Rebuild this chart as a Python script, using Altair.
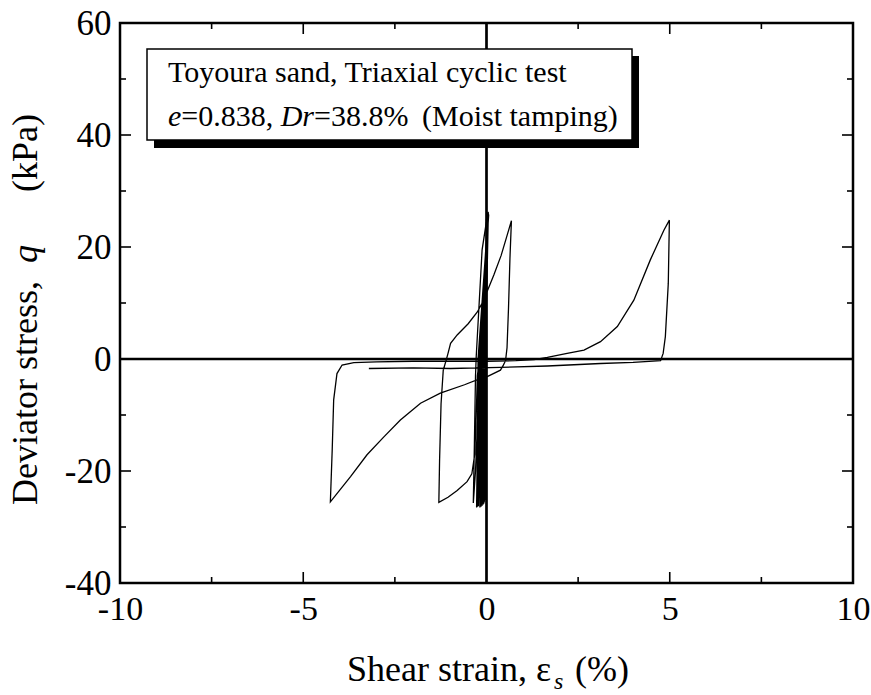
import altair as alt
import pandas as pd

# ---------------- data ----------------
# many small cycles around zero strain (thick central band)
band_strain = [0.00, 0.00, -0.01, -0.03, -0.03, 0.01, -0.02, -0.05, -0.04, 0.02,
               -0.03, -0.07, -0.06, 0.02, -0.05, -0.09, -0.08, 0.03, -0.06, -0.12,
               -0.10, 0.03, -0.08, -0.15, -0.13, 0.04, -0.10, -0.18, -0.15, 0.04,
               -0.12, -0.22, -0.18, 0.05, -0.15, -0.25, -0.20, 0.05, -0.17, -0.27,
               -0.22, 0.05, -0.19, -0.24, -0.21, 0.06, -0.20, -0.26, -0.23, 0.05]
band_q = [0.0, 25.0, 0.0, -25.2, 0.0, 25.4, 0.0, -25.5, 0.0, 25.6,
          0.0, -25.8, 0.0, 25.8, 0.0, -26.0, 0.0, 26.0, 0.0, -26.2,
          0.0, 26.1, 0.0, -26.4, 0.0, 26.3, 0.0, -26.5, 0.0, 26.2,
          0.0, -26.3, 0.0, 26.0, 0.0, -26.4, 0.0, 26.2, 0.0, -26.5,
          0.0, 26.0, 0.0, -26.2, 0.0, 25.8, 0.0, -26.4, 0.0, 26.0]

# growing loops after liquefaction
loop_strain = [0.00, -0.08, -0.15, -0.20, -0.25, -0.30, -0.36,
               -0.33, -0.30, -0.28, -0.20, -0.12, 0.03,
               -0.02, -0.08, -0.20, -0.25, -0.28, -0.32, -0.40, -0.53, -0.80, -1.05, -1.30,
               -1.28, -1.24, -1.18, -1.10, -1.05, -0.98, -0.80, -0.50, -0.25, -0.10, 0.05, 0.20, 0.40, 0.55, 0.68,
               0.64, 0.60, 0.56, 0.52, 0.46,
               0.38, 0.02, -0.16, -0.60, -1.26, -1.80, -2.35, -2.80, -3.26, -3.71, -4.26,
               -4.21, -4.17, -4.08, -3.94, -3.62, -3.00, -2.00, -1.00, 0.00, 0.80, 1.30,
               1.66, 2.20, 2.66, 3.11, 3.57, 4.02, 4.47, 4.84, 4.99,
               4.96, 4.88, 4.82, 4.75, 4.00, 3.11, 1.66, 0.38, -0.98, -2.00, -3.21]
loop_q = [10.0, 0.0, -0.6, -5.0, -12.0, -20.0, -25.7,
          -15.0, -3.0, 0.5, 10.0, 19.5, 25.9,
          8.0, 0.0, -0.7, -3.0, -10.0, -17.0, -20.5, -21.9, -23.5, -24.7, -25.6,
          -18.0, -8.0, -2.0, -0.2, 1.0, 2.8, 4.3, 6.3, 8.4, 10.2, 12.6, 15.0, 18.5, 21.8, 24.7,
          18.0, 9.0, 2.0, -0.3, -1.1,
          -2.0, -3.15, -3.45, -4.6, -6.1, -7.9, -10.9, -13.9, -17.1, -21.0, -25.5,
          -16.25, -7.3, -2.6, -1.07, -0.65, -0.5, -0.4, -0.4, -0.4, -0.3, -0.1,
          0.3, 1.0, 1.6, 3.1, 5.8, 10.5, 17.7, 23.0, 24.8,
          13.5, 4.0, 1.0, -0.3, -0.6, -0.8, -1.25, -1.5, -1.7, -1.6, -1.7]

x_labels = [-10, -5, 0, 5, 10]
y_labels = [-40, -20, 0, 20, 40, 60]
x_major = [-5, 5]
x_minor = [-7.5, -2.5, 2.5, 7.5]
y_major = [-20, 20, 40]
y_minor = [-30, -10, 10, 30, 50]
zero_line = [0]

# ---------------- chart ----------------
W, H = 733, 560
FONT = "Liberation Serif"

strain = band_strain + loop_strain
q = band_q + loop_q
df = pd.DataFrame({"strain": strain, "q": q, "i": list(range(len(strain)))})

xs = alt.Scale(domain=[-10, 10], nice=False, zero=False)
ys = alt.Scale(domain=[-40, 60], nice=False, zero=False)

xaxis = alt.Axis(values=x_labels, title=None, grid=False, ticks=False, domain=False,
                 labelFont=FONT, labelFontSize=34, labelColor="black", labelPadding=9,
                 labelFlush=False, labelOverlap=False, labelExpr="'' + datum.value")
yaxis = alt.Axis(values=y_labels, title=None, grid=False, ticks=False, domain=False,
                 labelFont=FONT, labelFontSize=35, labelColor="black", labelPadding=9,
                 labelFlush=False, labelOverlap=False, labelExpr="'' + datum.value")


def X(f):
    return alt.X(f, scale=xs, axis=xaxis)


def Y(f):
    return alt.Y(f, scale=ys, axis=yaxis)


curve = alt.Chart(df).mark_line(color="black", strokeWidth=1.3).encode(
    x=X("strain:Q"), y=Y("q:Q"), order="i:Q")

zdf = pd.DataFrame({"v": zero_line})
vzero = alt.Chart(zdf).mark_rule(color="black", strokeWidth=2.7).encode(x=X("v:Q"))
hzero = alt.Chart(zdf).mark_rule(color="black", strokeWidth=2.4).encode(y=Y("v:Q"))


def xticks(vals, length):
    d = pd.DataFrame({"v": vals})
    b = alt.Chart(d).mark_rule(color="black", strokeWidth=1.6).encode(
        x=X("v:Q"), y=alt.value(H), y2=alt.value(H - length))
    t = alt.Chart(d).mark_rule(color="black", strokeWidth=1.6).encode(
        x=X("v:Q"), y=alt.value(0), y2=alt.value(length))
    return [b, t]


def yticks(vals, length):
    d = pd.DataFrame({"v": vals})
    l = alt.Chart(d).mark_rule(color="black", strokeWidth=1.6).encode(
        y=Y("v:Q"), x=alt.value(0), x2=alt.value(length))
    r = alt.Chart(d).mark_rule(color="black", strokeWidth=1.6).encode(
        y=Y("v:Q"), x=alt.value(W), x2=alt.value(W - length))
    return [l, r]


ticks = xticks(x_major, 11) + xticks(x_minor, 6) + yticks(y_major, 11) + yticks(y_minor, 6)

one = pd.DataFrame({"a": [0]})
BX0, BX1, BY0, BY1 = 27, 512, 26, 117
shadow = alt.Chart(one).mark_rect(color="black").encode(
    x=alt.value(BX0 + 7), x2=alt.value(BX1 + 7), y=alt.value(BY0 + 7), y2=alt.value(BY1 + 8))
box = alt.Chart(one).mark_rect(fill="white", stroke="black", strokeWidth=1.5).encode(
    x=alt.value(BX0), x2=alt.value(BX1), y=alt.value(BY0), y2=alt.value(BY1))


def txt(s, x, y, size=30, italic=False, angle=0):
    kw = dict(align="left", baseline="alphabetic", font=FONT, fontSize=size, color="black")
    if italic:
        kw["fontStyle"] = "italic"
    if angle:
        kw["angle"] = angle
    return alt.Chart(one).mark_text(**kw).encode(
        x=alt.value(x), y=alt.value(y), text=alt.value(s))


texts = [
    txt("Toyoura sand, Triaxial cyclic test", 48, 59),
    txt("e", 48, 103, italic=True),
    txt("=0.838,", 61.3, 103),
    txt("Dr", 160.7, 103, italic=True),
    txt("=38.8%", 194, 103),
    txt("(Moist tamping)", 302, 103),
    # x title
    txt("Shear strain,", 227, 658, size=36),
    txt("\u03b5", 416, 658, size=36),
    txt("s", 434, 666, size=24, italic=True),
    txt("(%)", 455, 658, size=36),
    # y title (rotated)
    txt("Deviator stress,", -83, 482, size=36, angle=270),
    txt("q", -83, 240, size=36, italic=True, angle=270),
    txt("(kPa)", -83, 169, size=36, angle=270),
]

chart = alt.layer(curve, vzero, hzero, *ticks, shadow, box, *texts).properties(
    width=W, height=H,
    padding={"left": 120, "top": 23, "right": 18, "bottom": 112},
    autosize=alt.AutoSizeParams(type="none"),
).configure(background="white").configure_view(stroke="black", strokeWidth=2.5)

chart.save("out.html", embed_options={"renderer": "svg", "actions": False})
